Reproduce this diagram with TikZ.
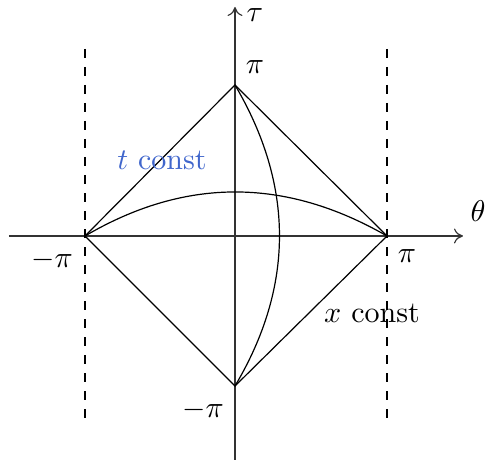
\documentclass[tikz,border=0pt]{standalone}
\usetikzlibrary{arrows.meta}
\definecolor{tblue}{rgb}{0.25,0.4,0.8}
\begin{document}
\begin{tikzpicture}[x=0.3333pt,y=-0.3333pt,
  axis/.style={draw=black!80,-{To[length=3pt,width=5pt]}},
  curve/.style={draw=black},
  lbl/.style={inner sep=0pt}]
\useasboundingbox (0,0) rectangle (486,465);
% points
\coordinate (L) at (85,236);
\coordinate (R) at (387,236);
\coordinate (T) at (235,85);
\coordinate (B) at (235,386);
\coordinate (xs) at (9,236);
\coordinate (xe) at (463,236);
\coordinate (ys) at (235,460);
\coordinate (ye) at (235,7);
\coordinate (dl1) at (85,49);
\coordinate (dl2) at (85,425);
\coordinate (dr1) at (387,49);
\coordinate (dr2) at (387,425);
% axes
\draw[axis] (xs) -- (xe);
\draw[axis] (ys) -- (ye);
% dashed
\draw[dashed] (dl1) -- (dl2);
\draw[dashed] (dr1) -- (dr2);
% diamond
\draw[curve] (L) -- (T) -- (R) -- (B) -- cycle;
% arcs
\draw[curve] (L) .. controls (185,177.3) and (285,177.3) .. (R);
\draw[curve] (T) .. controls (294.3,185.7) and (294.3,286.3) .. (B);
% labels
\node[lbl] (tau) at (255,15) {$\tau$};
\node[lbl] (th) at (478,211) {$\theta$};
\node[lbl] (piT) at (255,67) {$\pi$};
\node[lbl] (mpiL) at (52,260) {$-\pi$};
\node[lbl] (piR) at (407,256) {$\pi$};
\node[lbl] (mpiB) at (203,410) {$-\pi$};
\node[lbl,text=tblue] (tc) at (162,160) {$t$ const};
\node[lbl] (xc) at (372,313) {$x$ const};
\end{tikzpicture}
\end{document}
